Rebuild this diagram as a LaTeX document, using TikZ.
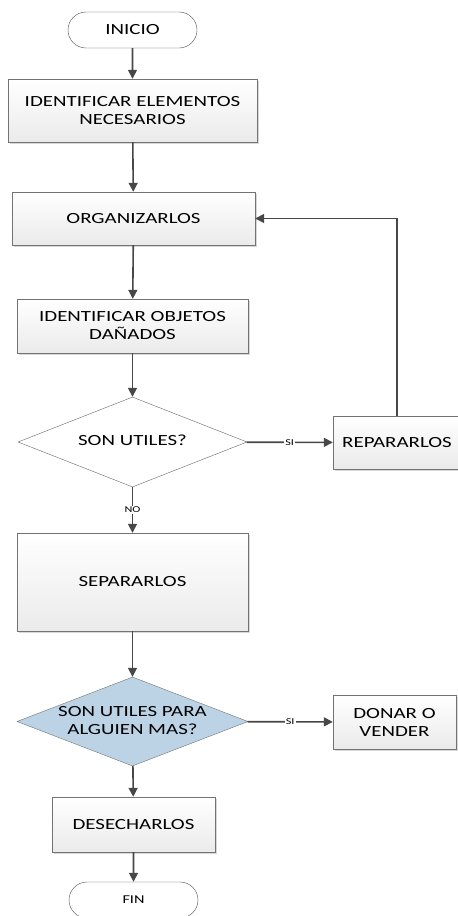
\documentclass[tikz,border=0pt]{standalone}
\usepackage{fontspec}
\setmainfont{Carlito}[FakeStretch=1.35]
\usepackage{tikz}
\usetikzlibrary{shapes.geometric, shapes.misc, arrows.meta, shadows}
\definecolor{decblue}{RGB}{188,211,230}
\newcommand{\dlines}[1]{\makebox[0pt]{\begin{tabular}{@{}c@{}}#1\end{tabular}}}
\tikzset{
  proc/.style = {rectangle, draw=black!55, top color=white, bottom color=black!8,
                 drop shadow={shadow xshift=1.5pt, shadow yshift=-1.5pt, fill=black!30},
                 align=center, inner sep=2pt, font=\fontsize{15.5}{18}\selectfont},
  dec/.style  = {diamond, draw=black!60, fill=white, inner sep=0pt,
                 font=\fontsize{15.5}{18}\selectfont},
  term/.style = {rounded rectangle, draw=black!70, fill=white,
                 minimum width=129pt, minimum height=36pt, inner sep=0pt},
  arr/.style  = {-{Triangle[length=9pt,width=9pt]}, line width=1.6pt, draw=black!72},
  lbl/.style  = {fill=white, inner sep=1pt, font=\fontsize{9}{10}\selectfont},
}
\begin{document}
\begin{tikzpicture}[x=1pt, y=-1pt]
  \useasboundingbox (0,0) rectangle (458,916);

  % Start
  \node[term, font=\fontsize{15.5}{18}\selectfont] (inicio) at (132.5,30) {INICIO};

  % Main column
  \node[proc, minimum width=249pt, minimum height=63pt]
        (elem) at (132.5,110.5) {IDENTIFICAR ELEMENTOS\\NECESARIOS};
  \node[proc, minimum width=243pt, minimum height=53pt]
        (org) at (133.5,218.5) {ORGANIZARLOS};
  \node[proc, minimum width=231pt, minimum height=54pt]
        (obj) at (132.5,326) {IDENTIFICAR OBJETOS\\DAÑADOS};
  \node[dec, minimum width=229pt, minimum height=90pt]
        (util) at (132.5,442) {\dlines{SON UTILES?}};
  \node[proc, minimum width=231pt, minimum height=98pt]
        (sep) at (132.5,582) {SEPARARLOS};
  \node[dec, fill=decblue, draw=black!55, minimum width=231pt, minimum height=89pt]
        (alg) at (132.5,721.5) {\dlines{SON UTILES PARA\\ALGUIEN MAS?}};
  \node[proc, minimum width=163pt, minimum height=55pt]
        (des) at (133.5,824.5) {DESECHARLOS};

  % End
  \node[term, font=\fontsize{12}{14}\selectfont] (fin) at (133.5,900) {FIN};

  % Side boxes
  \node[proc, minimum width=128pt, minimum height=53pt]
        (rep) at (397,442.5) {REPARARLOS};
  \node[proc, minimum width=123pt, minimum height=54pt]
        (don) at (394.5,722) {DONAR O\\VENDER};

  % Arrows
  \draw[arr] (inicio) -- (elem);
  \draw[arr] (elem) -- (org);
  \draw[arr] (org) -- (obj);
  \draw[arr] (obj) -- (util);
  \draw[arr] (util) -- node[lbl] (si1) {SI} (rep);
  \draw[arr] (rep.north) |- (org.east);
  \draw[arr] (util) -- node[lbl] (no1) {NO} (sep);
  \draw[arr] (sep) -- (alg);
  \draw[arr] (alg) -- node[lbl] (si2) {SI} (don);
  \draw[arr] (alg) -- (des);
  \draw[arr] (des) -- (fin);
\end{tikzpicture}
\end{document}
